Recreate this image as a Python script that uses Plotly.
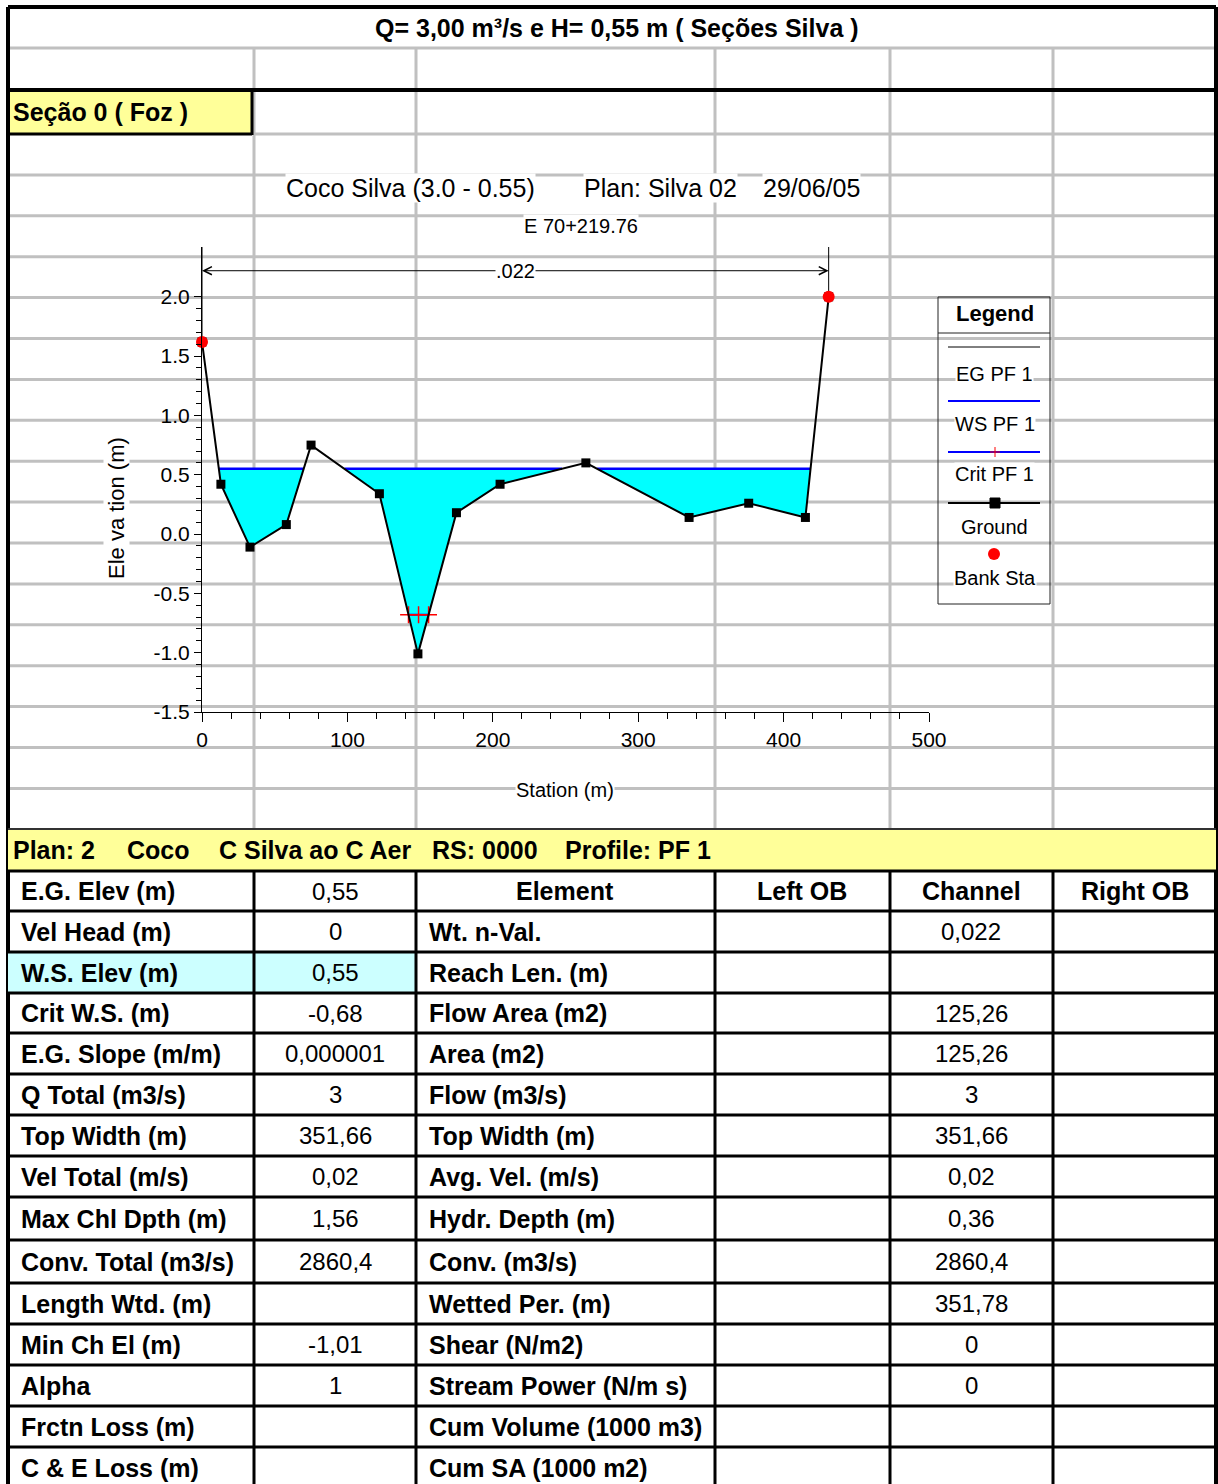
import plotly.graph_objects as go

W, H = 1218, 1484

# ---------------- data ----------------
station = [0, 13, 33, 58, 75, 122, 148.5, 175, 205, 264, 335, 376, 415, 431]
elev = [1.62, 0.42, -0.11, 0.08, 0.75, 0.34, -1.01, 0.18, 0.42, 0.60, 0.14, 0.26, 0.14, 2.00]
bank_sta = [0, 431]
bank_elev = [1.62, 2.00]
ws_elev = 0.55
eg_elev = 0.55
crit_elev = -0.68
n_value_label = ".022"

y_major = [-1.5, -1.0, -0.5, 0.0, 0.5, 1.0, 1.5, 2.0]
x_major = [0, 100, 200, 300, 400, 500]

left_labels = ["E.G. Elev (m)", "Vel Head (m)", "W.S. Elev (m)", "Crit W.S. (m)", "E.G. Slope (m/m)",
               "Q Total (m3/s)", "Top Width (m)", "Vel Total (m/s)", "Max Chl Dpth (m)", "Conv. Total (m3/s)",
               "Length Wtd. (m)", "Min Ch El (m)", "Alpha", "Frctn Loss (m)", "C & E Loss (m)"]
left_values = ["0,55", "0", "0,55", "-0,68", "0,000001", "3", "351,66", "0,02", "1,56", "2860,4",
               "", "-1,01", "1", "", ""]
right_labels = ["Element", "Wt. n-Val.", "Reach Len. (m)", "Flow Area (m2)", "Area (m2)", "Flow (m3/s)",
                "Top Width (m)", "Avg. Vel. (m/s)", "Hydr. Depth (m)", "Conv. (m3/s)", "Wetted Per. (m)",
                "Shear (N/m2)", "Stream Power (N/m s)", "Cum Volume (1000 m3)", "Cum SA (1000 m2)"]
left_ob = ["Left OB"] + [""] * 14
channel = ["Channel", "0,022", "", "125,26", "125,26", "3", "351,66", "0,02", "0,36", "2860,4",
           "351,78", "0", "0", "", ""]
right_ob = ["Right OB"] + [""] * 14

# ---------------- layout constants ----------------
FONT = "Liberation Sans, Arial, sans-serif"
COLS = [8, 254, 416, 715, 890, 1053, 1216]
GRAY = "#C0C0C0"
YELLOW = "#FFFF99"
Y_TOP = 2.42
NVAL_Y = 2.22
TB = 25   # bold sheet text size
TV = 24   # value text size
CS = 20   # chart small text size

shapes, annotations = [], []


def P(x, y):
    return x / W, 1 - y / H


def line(x0, y0, x1, y1, color, width, layer="below"):
    a, b = P(x0, y0)
    c, d = P(x1, y1)
    shapes.append(dict(type="line", xref="paper", yref="paper", x0=a, y0=b, x1=c, y1=d,
                       line=dict(color=color, width=width), layer=layer))


def rect(x0, y0, x1, y1, fill, lc=None, lw=0, layer="below"):
    a, b = P(x0, y0)
    c, d = P(x1, y1)
    shapes.append(dict(type="rect", xref="paper", yref="paper", x0=a, y0=d, x1=c, y1=b,
                       fillcolor=fill, line=dict(color=lc or fill, width=lw), layer=layer))


def txt(x, y, s, size=TB, bold=False, anchor="center", bg=None, angle=0):
    a, b = P(x, y)
    annotations.append(dict(x=a, y=b, xref="paper", yref="paper", text=f"<b>{s}</b>" if bold else s,
                            showarrow=False, xanchor=anchor, yanchor="middle", textangle=angle,
                            font=dict(size=size, color="black", family=FONT),
                            bgcolor=bg, borderpad=0))


# ---------------- spreadsheet grid ----------------
grid_rows = [48] + [134 + 40.9 * k for k in range(1, 17)]
for y in grid_rows:
    line(8, y, 1216, y, GRAY, 3)
line(254, 134, 1216, 134, GRAY, 3)
for x in COLS[1:6]:
    line(x, 48, x, 829, GRAY, 3)

rect(8, 90, 252, 134, YELLOW)
line(252, 90, 252, 135, "black", 3)
line(8, 134, 252, 134, "black", 3)
line(8, 90, 1216, 90, "black", 4)
line(8, 7, 1216, 7, "black", 4)
line(8, 7, 8, 1484, "black", 4)
line(1216, 7, 1216, 1484, "black", 4)

# bottom table
rect(8, 829, 1216, 871, YELLOW)
rect(8, 952, 416, 993, "#CCFFFF")
line(8, 829, 1216, 829, "#333333", 2)
row_lines = [871, 911, 952, 993, 1033, 1074, 1115, 1156, 1197, 1240, 1283, 1324, 1365, 1406, 1447]
for y in row_lines:
    line(8, y, 1216, y, "black", 3)
for x in COLS[1:6]:
    line(x, 871, x, 1484, "black", 3)

txt(617, 28, "Q= 3,00 m³/s e H= 0,55 m ( Seções Silva )", TB, True)
txt(12, 112, "Seção 0 ( Foz )", TB, True, "left")
for xx, s in [(12, "Plan: 2"), (126, "Coco"), (218, "C Silva ao C Aer"), (431, "RS: 0000"), (564, "Profile: PF 1")]:
    txt(xx, 850, s, TB, True, "left")

row_mid = [(row_lines[i] + (row_lines[i + 1] if i + 1 < len(row_lines) else 1488)) / 2 for i in range(len(row_lines))]
for i, ym in enumerate(row_mid):
    txt(20, ym, left_labels[i], TB, True, "left")
    if left_values[i]:
        txt(335, ym, left_values[i], TV)
    if i == 0:
        txt(565, ym, right_labels[i], TB, True)
    else:
        txt(428, ym, right_labels[i], TB, True, "left")
    for cx, col, bold in [(802, left_ob, True), (971, channel, i == 0), (1135, right_ob, True)]:
        if col[i]:
            txt(cx, ym, col[i], TB if bold else TV, bold)

# ---------------- chart texts ----------------
txt(285, 188, "Coco Silva (3.0 - 0.55)", 25, False, "left", "white")
txt(583, 188, "Plan: Silva 02", 25, False, "left", "white")
txt(762, 188, "29/06/05", 25, False, "left", "white")
txt(581, 226, "E 70+219.76", CS, False, "center", "white")
txt(565, 790, "Station (m)", CS, False, "center", "white")
txt(116, 508, "Ele va tion (m)", 22, False, "center", "white", angle=-90)

# ---------------- legend (drawn) ----------------
rect(938, 297, 1050, 604, "rgba(0,0,0,0)", "#222222", 1, "above")
line(938, 333, 1050, 333, "#222222", 1, "above")
txt(995, 313, "Legend", 22, True, "center", "white")
line(948, 347, 1040, 347, "black", 1, "above")
txt(995, 374, "EG PF 1", CS, False, "center", "white")
line(948, 401, 1040, 401, "blue", 2, "above")
txt(995, 424, "WS PF 1", CS, False, "center", "white")
line(948, 452, 1040, 452, "blue", 2, "above")
line(990, 452, 1000, 452, "red", 1, "above")
line(995, 447, 995, 457, "red", 1, "above")
txt(995, 474, "Crit PF 1", CS, False, "center", "white")
line(948, 503, 1040, 503, "black", 2, "above")
rect(990, 498, 1000, 508, "black", "black", 1, "above")
txt(995, 527, "Ground", CS, False, "center", "white")
a, b = P(988, 548)
c, d = P(1000, 560)
shapes.append(dict(type="circle", xref="paper", yref="paper", x0=a, y0=d, x1=c, y1=b,
                   fillcolor="red", line=dict(color="red", width=0), layer="above"))
txt(995, 578, "Bank Sta", CS, False, "center", "white")


# ---------------- derived geometry ----------------
def wet_intervals(xs, ys, level):
    ivs, cur = [], None
    for i in range(len(xs) - 1):
        x0, y0, x1, y1 = xs[i], ys[i], xs[i + 1], ys[i + 1]
        b0, b1 = y0 < level, y1 < level
        if b0 and b1:
            cur = [x0, x1] if cur is None else [cur[0], x1]
        elif b0 and not b1:
            xc = x0 + (level - y0) / (y1 - y0) * (x1 - x0)
            cur = [x0, xc] if cur is None else [cur[0], xc]
            ivs.append(cur)
            cur = None
        elif b1 and not b0:
            xc = x0 + (level - y0) / (y1 - y0) * (x1 - x0)
            cur = [xc, x1]
    if cur:
        ivs.append(cur)
    return ivs


def water_polygons(xs, ys, level):
    px, py = [], []
    for a_, b_ in wet_intervals(xs, ys, level):
        px.append(a_); py.append(level)
        for x, y in zip(xs, ys):
            if a_ < x < b_:
                px.append(x); py.append(y)
        px += [b_, a_, None]; py += [level, level, None]
    return px, py


def level_segments(xs, ys, level):
    lx, ly = [], []
    for a_, b_ in wet_intervals(xs, ys, level):
        lx += [a_, b_, None]; ly += [level, level, None]
    return lx, ly


wx, wy = water_polygons(station, elev, ws_elev)
ex, ey = level_segments(station, elev, eg_elev)
sx, sy = level_segments(station, elev, ws_elev)
civ = wet_intervals(station, elev, crit_elev)
cx = [civ[0][0], (civ[0][0] + civ[0][1]) / 2, civ[0][1]]
cy = [crit_elev] * 3

fig = go.Figure()
fig.add_trace(go.Scatter(x=wx, y=wy, mode="lines", fill="toself", fillcolor="#00FFFF",
                         line=dict(width=0, color="#00FFFF"), hoverinfo="skip"))
fig.add_trace(go.Scatter(x=ex, y=ey, mode="lines", line=dict(color="black", width=1)))
fig.add_trace(go.Scatter(x=sx, y=sy, mode="lines", line=dict(color="#0000FF", width=2.5)))
fig.add_trace(go.Scatter(x=cx, y=cy, mode="lines+markers", line=dict(color="#0000FF", width=2),
                         marker=dict(symbol="cross-thin", size=12, line=dict(color="red", width=1.5))))
fig.add_trace(go.Scatter(x=[bank_sta[0], bank_sta[0], None, bank_sta[1], bank_sta[1]],
                         y=[bank_elev[0], Y_TOP, None, bank_elev[1], Y_TOP], mode="lines",
                         line=dict(color="black", width=1), cliponaxis=False))
fig.add_trace(go.Scatter(x=station, y=elev, mode="lines+markers", line=dict(color="black", width=2),
                         marker=dict(symbol="square", size=9, color="black"), cliponaxis=False))
fig.add_trace(go.Scatter(x=bank_sta, y=bank_elev, mode="markers",
                         marker=dict(symbol="circle", size=12, color="red"), cliponaxis=False))

mid = (bank_sta[0] + bank_sta[1]) / 2
for end in bank_sta:
    annotations.append(dict(x=end, y=NVAL_Y, ax=mid, ay=NVAL_Y, xref="x", yref="y", axref="x", ayref="y",
                            showarrow=True, arrowhead=5, arrowsize=1.6, arrowwidth=1, arrowcolor="black",
                            text=""))
annotations.append(dict(x=mid, y=NVAL_Y, xref="x", yref="y", text=n_value_label, showarrow=False,
                        font=dict(size=CS, family=FONT, color="black"), bgcolor="white", borderpad=0))

y_minor = [round(-1.5 + 0.1 * k, 1) for k in range(36) if round(-1.5 + 0.1 * k, 1) not in y_major]

fig.update_layout(
    template="none", autosize=False,
    width=W, height=H, margin=dict(l=0, r=0, t=0, b=0, pad=0, autoexpand=False),
    paper_bgcolor="white", plot_bgcolor="rgba(0,0,0,0)", showlegend=False,
    shapes=shapes, annotations=annotations,
    font=dict(family=FONT, size=CS, color="black"),
    xaxis=dict(domain=[202 / W, 929 / W], range=[0, 500], tickvals=x_major, automargin=False,
               showgrid=False, zeroline=False, showline=True, linecolor="black", linewidth=1,
               ticks="outside", ticklen=9, tickcolor="black", tickwidth=1,
               tickfont=dict(size=21, family=FONT),
               minor=dict(ticks="outside", ticklen=6, dtick=20, tick0=0, tickcolor="black", showgrid=False)),
    yaxis=dict(domain=[1 - 712 / H, 1 - 247 / H], range=[-1.5, Y_TOP], tickvals=y_major, automargin=False,
               ticktext=[f"{v:.1f}" for v in y_major],
               showgrid=False, zeroline=False, showline=True, linecolor="black", linewidth=1,
               ticks="outside", ticklen=7, tickcolor="black", tickwidth=1,
               tickfont=dict(size=21, family=FONT),
               minor=dict(ticks="outside", ticklen=5, tickvals=y_minor, tickcolor="black", showgrid=False)),
)

fig.write_html("out.html", config={"responsive": False, "displayModeBar": False},
               post_script="document.body.style.margin='0';document.body.style.overflow='hidden';")
